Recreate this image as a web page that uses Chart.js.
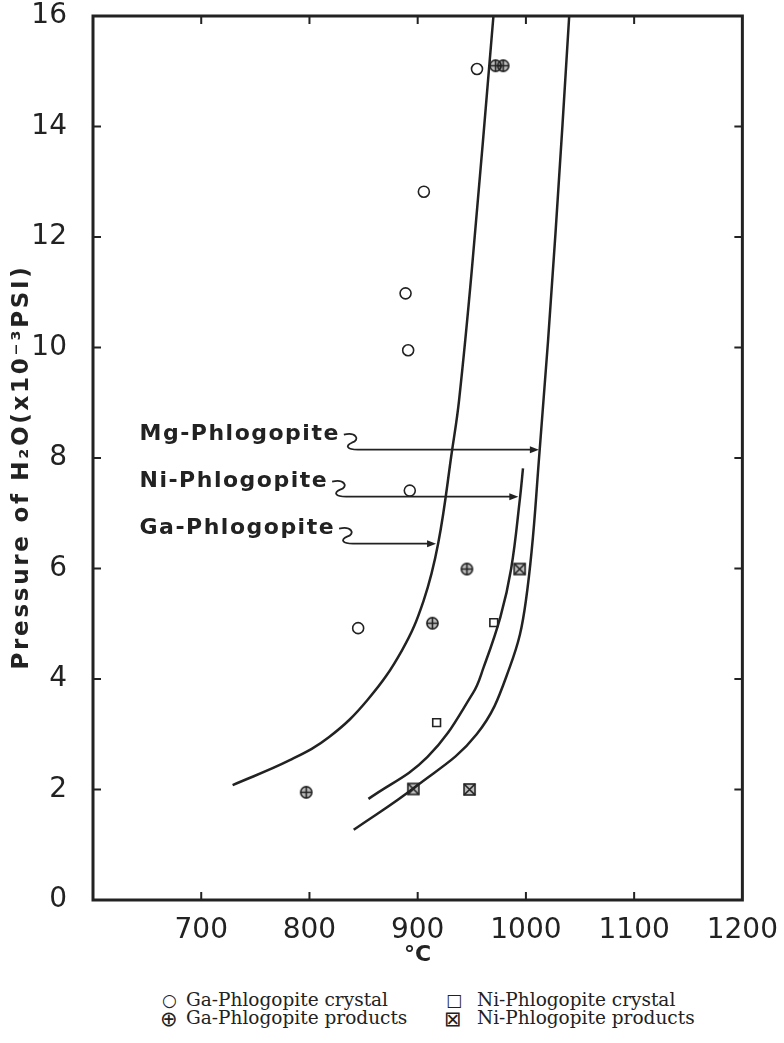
<!DOCTYPE html>
<html>
<head>
<meta charset="utf-8">
<script src="https://cdn.jsdelivr.net/npm/chart.js@4/dist/chart.umd.min.js"></script>
<style>
  body { margin: 0; background: #fff; }
  #wrap { position: relative; width: 784px; height: 1043px; }
  #legend { position: absolute; left: 0; top: 990px; width: 784px;
    font-family: "DejaVu Serif", serif; font-size: 18.5px; line-height: 20px; color: #222; }
  #legend span { position: absolute; white-space: nowrap; }
  #legend .g { font-family: "DejaVu Sans", sans-serif; font-size: 17px; }
  #legend .h { font-family: "DejaVu Sans", sans-serif; font-size: 21px; line-height: 20px; }
</style>
</head>
<body>
<div id="wrap">
  <canvas id="chart" width="784" height="970"></canvas>
  <div id="legend">
    <span class="g" style="left:162px;top:0px">○</span><span style="left:186px;top:0px">Ga-Phlogopite crystal</span>
    <span class="g" style="left:446px;top:0px">□</span><span style="left:477px;top:0px">Ni-Phlogopite crystal</span>
    <span class="h" style="left:160px;top:19px">⊕</span><span style="left:186px;top:18px">Ga-Phlogopite products</span>
    <span class="h" style="left:444px;top:19px">⊠</span><span style="left:477px;top:18px">Ni-Phlogopite products</span>
  </div>
</div>
<script>
'use strict';
// axis ranges
const tempRange = [600, 1200];
const pressRange = [0, 16];
const yTitle = 'Pressure of H₂O(x10⁻³PSI)';

// measured points, [°C, pressure x10^-3 psi]
const gaCrystal = [[845, 4.92], [892.7, 7.41], [891.2, 9.95], [888.8, 10.98], [905.7, 12.82], [954.8, 15.04]];
const gaProducts = [[797, 1.95], [913.6, 5.01], [945.5, 5.99], [972, 15.1], [979, 15.1]];
const niCrystal = [[917.5, 3.21], [970.3, 5.02]];
const niProducts = [[896, 2.01], [947.9, 2.0], [994.2, 5.99]];

// stability curves
const gaCurve = [[729, 2.08], [781.8, 2.53], [818.2, 2.95], [853.6, 3.62], [885.5, 4.52], [905.5, 5.42], [919, 6.46], [931.8, 8.14], [938.2, 9.04], [950, 11.4], [970, 16]];
const niCurve = [[854.5, 1.83], [909.1, 2.59], [950.9, 3.74], [960.9, 4.21], [976.4, 5.12], [986.4, 6.0], [994.5, 7.27], [997.3, 7.81]];
const mgCurve = [[840.9, 1.27], [897.3, 2.04], [954.5, 3.0], [985, 4.21], [1000, 5.42], [1012.7, 8.14], [1027.3, 12.06], [1040, 16]];

// labels with arrows pointing at the curves
const curveNames = ['Mg-Phlogopite', 'Ni-Phlogopite', 'Ga-Phlogopite'];
const arrowAt = [8.15, 7.3, 6.45];
const arrowTo = [1012, 993, 917];

const ink = '#222';
const pts = a => a.map(p => ({x: p[0], y: p[1]}));

function mark(kind) {
  const c = document.createElement('canvas');
  c.width = c.height = 15;
  const g = c.getContext('2d');
  g.strokeStyle = ink; g.lineWidth = 1.6;
  g.fillStyle = 'rgba(0,0,0,0.25)';
  if (kind === 'oplus') {
    g.beginPath(); g.arc(7.5, 7.5, 5.6, 0, Math.PI * 2); g.fill(); g.stroke();
    g.beginPath(); g.moveTo(2, 7.5); g.lineTo(13, 7.5); g.moveTo(7.5, 2); g.lineTo(7.5, 13); g.stroke();
  } else {
    g.fillRect(2, 2, 11, 11); g.strokeRect(2, 2, 11, 11);
    g.beginPath(); g.moveTo(2, 2); g.lineTo(13, 13); g.moveTo(13, 2); g.lineTo(2, 13); g.stroke();
  }
  return c;
}

function curve(d) {
  return {type: 'line', data: pts(d), showLine: true, pointRadius: 0,
    borderColor: ink, borderWidth: 2.5, tension: 0.4, fill: false};
}

const frame = {
  id: 'frame',
  afterDraw(chart) {
    const {ctx, chartArea: a, scales: {x, y}} = chart;
    ctx.save();
    ctx.strokeStyle = ink;
    ctx.lineWidth = 3;
    ctx.strokeRect(a.left, a.top, a.right - a.left, a.bottom - a.top);
    ctx.lineWidth = 2;
    ctx.beginPath();
    x.ticks.forEach(t => {
      if (t.value <= tempRange[0] || t.value >= tempRange[1]) return;
      const px = x.getPixelForValue(t.value);
      ctx.moveTo(px, a.bottom); ctx.lineTo(px, a.bottom - 8);
      ctx.moveTo(px, a.top); ctx.lineTo(px, a.top + 8);
    });
    y.ticks.forEach(t => {
      if (t.value <= pressRange[0] || t.value >= pressRange[1]) return;
      const py = y.getPixelForValue(t.value);
      ctx.moveTo(a.left, py); ctx.lineTo(a.left + 8, py);
      ctx.moveTo(a.right, py); ctx.lineTo(a.right - 8, py);
    });
    ctx.stroke();

    // y axis title, spaced out like the lettering of the original
    ctx.fillStyle = ink;
    ctx.font = 'bold 23px "DejaVu Sans"';
    ctx.textAlign = 'center';
    ctx.textBaseline = 'middle';
    const w0 = ctx.measureText(yTitle).width;
    ctx.letterSpacing = Math.max(0, (405 - w0) / yTitle.length) + 'px';
    ctx.translate(22, 467);
    ctx.rotate(-Math.PI / 2);
    ctx.fillText(yTitle, 0, 0);
    ctx.setTransform(1, 0, 0, 1, 0, 0);

    // curve labels with squiggle leaders and arrows
    ctx.font = 'bold 22px "DejaVu Sans"';
    ctx.letterSpacing = '1.5px';
    ctx.textAlign = 'left';
    curveNames.forEach((name, i) => {
      const ya = y.getPixelForValue(arrowAt[i]);
      const yt = ya - 15;
      const xt = x.getPixelForValue(643);
      ctx.fillText(name, xt, yt);
      const x0 = xt + ctx.measureText(name).width + 4;
      const xe = x.getPixelForValue(arrowTo[i]);
      ctx.lineWidth = 1.8;
      ctx.beginPath();
      ctx.moveTo(x0, yt);
      ctx.bezierCurveTo(x0 + 12, yt - 3, x0 + 17, yt + 5, x0 + 8, yt + 8);
      ctx.bezierCurveTo(x0 + 1, ya - 4, x0 + 3, ya, x0 + 14, ya);
      ctx.lineTo(xe - 6, ya);
      ctx.stroke();
      ctx.beginPath();
      ctx.moveTo(xe, ya); ctx.lineTo(xe - 9, ya - 3.5); ctx.lineTo(xe - 9, ya + 3.5);
      ctx.closePath(); ctx.fill();
    });
    ctx.restore();
  }
};

const tickFont = {family: '"DejaVu Sans"', size: 28};

new Chart(document.getElementById('chart'), {
  type: 'scatter',
  data: {
    datasets: [
      curve(gaCurve), curve(niCurve), curve(mgCurve),
      {data: pts(gaCrystal), pointStyle: 'circle', pointRadius: 5.5, borderWidth: 1.6,
        borderColor: ink, backgroundColor: '#fff'},
      {data: pts(gaProducts), pointStyle: mark('oplus')},
      {data: pts(niCrystal), pointStyle: 'rect', pointRadius: 5.5, borderWidth: 1.6,
        borderColor: ink, backgroundColor: '#fff'},
      {data: pts(niProducts), pointStyle: mark('xbox')}
    ]
  },
  options: {
    responsive: false,
    animation: false,
    layout: {padding: {left: 0, right: 40, top: 0, bottom: 0}},
    plugins: {legend: {display: false}, tooltip: {enabled: false}},
    scales: {
      x: {
        min: tempRange[0], max: tempRange[1],
        grid: {display: false},
        border: {display: false},
        afterFit: s => { s.height = 70; },
        ticks: {stepSize: 100, color: ink, font: tickFont, padding: 6,
          callback: v => v === tempRange[0] ? '' : v},
        title: {display: true, text: '°C', color: ink,
          font: {family: '"DejaVu Sans"', size: 22, weight: 'bold'}, padding: {top: 0, bottom: 2}}
      },
      y: {
        min: pressRange[0], max: pressRange[1],
        grid: {display: false},
        border: {display: false},
        afterFit: s => { s.width = 93; s.paddingTop = 16; s.paddingBottom = 0; },
        ticks: {stepSize: 2, color: ink, font: tickFont, padding: 18}
      }
    }
  },
  plugins: [frame]
});
</script>
</body>
</html>
